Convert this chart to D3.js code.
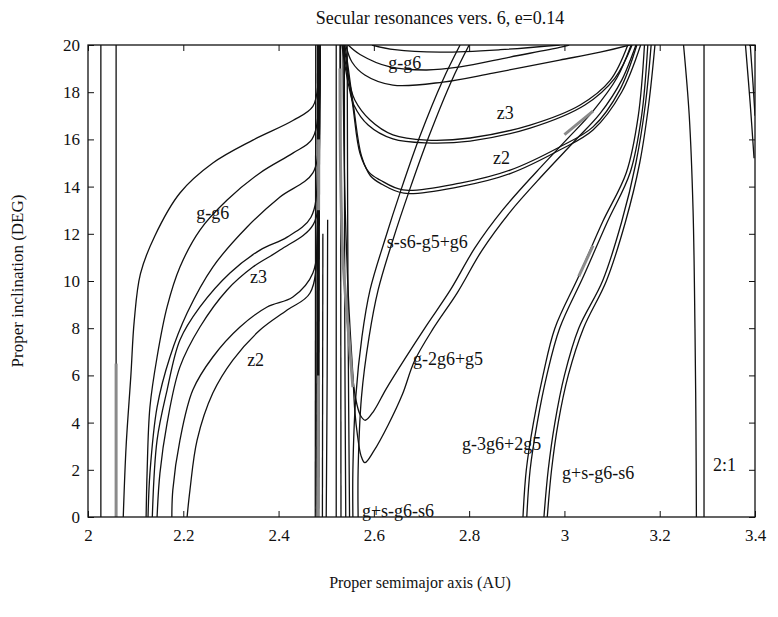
<!DOCTYPE html>
<html>
<head>
<meta charset="utf-8">
<script src="https://cdn.jsdelivr.net/npm/d3@7"></script>
<style>
  body { margin: 0; background: #fff; }
  svg text { font-family: "Liberation Serif", "DejaVu Serif", serif; fill: #111; }
</style>
</head>
<body>
<div id="chart"></div>
<script>
// axes
const xTicks = [2, 2.2, 2.4, 2.6, 2.8, 3, 3.2, 3.4];
const yTicks = [0, 2, 4, 6, 8, 10, 12, 14, 16, 18, 20];

// left family (g-g6, z3, z2) merging into the 2.48 resonance
const ggLeftOuter = [[2.487,20],[2.484,18.6],[2.472,17.4],[2.43,16.8],[2.346,15.97],[2.262,15.0],[2.193,13.73],[2.14,11.9],[2.11,10.3],[2.097,8.3],[2.09,6.0],[2.08,3.0],[2.074,0]];
const ggLeftInner = [[2.487,20],[2.485,17.5],[2.47,16.0],[2.43,15.42],[2.361,14.58],[2.292,13.43],[2.235,12.16],[2.193,10.59],[2.166,8.9],[2.145,6.78],[2.13,4.66],[2.124,1.86],[2.122,0]];
const ggLeftThird = [[2.487,20],[2.484,16.5],[2.472,14.58],[2.403,13.56],[2.334,12.29],[2.262,10.59],[2.208,8.64],[2.172,6.78],[2.145,4.66],[2.13,1.86],[2.126,0]];
const z3LeftA = [[2.486,20],[2.483,15.0],[2.468,12.7],[2.418,11.86],[2.361,11.31],[2.298,10.34],[2.235,8.9],[2.193,7.5],[2.166,5.38],[2.145,3.26],[2.135,0]];
const z3LeftB = [[2.486,20],[2.484,14.6],[2.473,12.4],[2.403,11.31],[2.346,10.59],[2.292,9.62],[2.235,8.05],[2.193,6.36],[2.166,3.98],[2.151,1.86],[2.145,0]];
const z2LeftA = [[2.485,20],[2.483,13.2],[2.472,10.34],[2.43,9.32],[2.376,8.9],[2.319,8.05],[2.262,6.78],[2.22,5.38],[2.193,3.26],[2.178,1.14],[2.176,0]];
const z2LeftB = [[2.485,20],[2.482,12.3],[2.466,9.49],[2.418,8.77],[2.361,7.92],[2.304,6.65],[2.262,5.25],[2.229,3.26],[2.214,1.14],[2.208,0]];

// near-vertical lines
const vert203 = [[2.027,20],[2.027,0]];
const vert206 = [[2.059,20],[2.059,0]];
const res248a = [[2.478,20],[2.477,0]];
const res248b = [[2.484,20],[2.482,0]];
const res249 = [[2.493,12.0],[2.492,0]];
const res250 = [[2.503,12.6],[2.502,6],[2.5,0]];
const res252 = [[2.521,20],[2.521,0]];
const res253 = [[2.53,20],[2.531,0]];
const res254 = [[2.538,20],[2.539,8],[2.541,0]];
const res255 = [[2.544,20],[2.546,8],[2.549,0]];

// g-2g6+g5 (two V shaped curves)
const gg5Upper = [[2.529,20],[2.53,15],[2.535,11],[2.548,7.5],[2.562,5.0],[2.572,4.3],[2.582,4.1],[2.6,4.5],[2.625,5.4],[2.665,6.7],[2.71,8.1],[2.76,9.6],[2.812,11.4],[2.87,13.0],[2.94,14.6],[3.005,16.0],[3.06,17.2],[3.11,18.6],[3.14,20]];
const gg5Lower = [[2.535,20],[2.537,16],[2.54,13],[2.545,10],[2.55,8],[2.556,6],[2.56,4.5],[2.566,3.4],[2.573,2.6],[2.581,2.3],[2.6,2.8],[2.63,3.9],[2.66,5.2],[2.685,6.6],[2.725,8.0],[2.775,9.5],[2.827,11.3],[2.885,12.9],[2.955,14.5],[3.02,15.9],[3.075,17.1],[3.12,18.5],[3.15,20]];

// s-s6-g5+g6 pair
const ssA = [[2.781,20],[2.745,18.52],[2.696,16.1],[2.657,13.86],[2.623,11.74],[2.592,9.62],[2.575,7.63],[2.562,5.08],[2.556,2.0],[2.556,0]];
const ssB = [[2.80,20],[2.764,18.52],[2.715,16.1],[2.675,13.86],[2.64,11.74],[2.609,9.62],[2.59,7.63],[2.574,5.08],[2.567,2.0],[2.567,0]];

// upper family right of the 2.5 resonance
const ggTop0 = [[2.596,20],[2.644,19.8],[2.739,19.7],[2.865,19.8],[2.99,20]];
const ggTop = [[2.546,20],[2.571,19.6],[2.634,19.07],[2.711,18.94],[2.781,19.07],[2.886,19.49],[2.99,19.9],[3.01,20]];
const ggTop2 = [[2.541,20],[2.554,19.28],[2.581,18.73],[2.64,18.3],[2.745,18.43],[2.85,18.81],[2.99,19.36],[3.075,19.7],[3.137,20]];
const z3TopA = [[2.535,20],[2.54,19.3],[2.55,18.3],[2.56,17.67],[2.592,16.82],[2.64,16.19],[2.711,15.97],[2.802,16.06],[2.928,16.61],[3.033,17.46],[3.096,18.5],[3.133,20]];
const z3TopB = [[2.533,20],[2.538,19.3],[2.548,18.2],[2.558,17.46],[2.588,16.61],[2.64,16.02],[2.711,15.85],[2.802,15.93],[2.928,16.48],[3.043,17.46],[3.106,18.6],[3.142,20]];
const z2TopA = [[2.537,20],[2.541,19.5],[2.556,17.4],[2.571,15.4],[2.59,14.6],[2.613,14.28],[2.661,13.86],[2.781,14.15],[2.886,14.7],[2.99,15.68],[3.06,16.53],[3.116,18.09],[3.152,20]];
const z2TopB = [[2.539,20],[2.543,19.5],[2.558,17.3],[2.574,15.3],[2.593,14.45],[2.617,14.1],[2.663,13.72],[2.781,14.0],[2.886,14.55],[2.99,15.55],[3.06,16.4],[3.12,18.0],[3.16,20]];

// g-3g6+2g5 and g+s-g6-s6 pairs on the right
const g3A = [[2.913,0],[2.92,2],[2.935,4],[2.955,6],[2.98,8],[3.03,10.2],[3.08,12.5],[3.13,14.6],[3.155,17],[3.168,20]];
const g3B = [[2.921,0],[2.928,2],[2.943,4],[2.963,6],[2.99,8],[3.04,10.2],[3.09,12.5],[3.138,14.6],[3.162,17],[3.175,20]];
const gsA = [[2.957,0],[2.966,2],[2.98,4],[3.0,6],[3.03,8],[3.08,10],[3.12,12.5],[3.15,15],[3.17,17.5],[3.182,20]];
const gsB = [[2.964,0],[2.973,2],[2.987,4],[3.008,6],[3.04,8],[3.088,10],[3.128,12.5],[3.158,15],[3.177,17.5],[3.19,20]];

// 2:1 resonance and right edge
const res21Curve = [[3.25,20],[3.262,17],[3.27,13],[3.274,8],[3.276,4],[3.277,0]];
const res21Line = [[3.293,20],[3.293,0]];
const edgeA = [[3.38,20],[3.39,17.5],[3.398,15.2]];
const edgeB = [[3.39,20],[3.396,18.3],[3.4,17]];

// scan artefacts (grey segments)
const greyA = [[2.484,6.0],[2.482,0]];
const greyB = [[2.484,16.0],[2.484,13.0]];
const greyC = [[2.529,19],[2.53,15],[2.535,11],[2.548,7.5],[2.556,5.5]];
const greyD = [[3.0,16.2],[3.06,17.2]];
const greyE = [[3.03,10.2],[3.06,11.5]];
const greyF = [[2.059,6.5],[2.059,0]];

const curveLabels = ["g-g6", "z3", "z2", "g-g6", "z3", "z2", "s-s6-g5+g6", "g-2g6+g5", "g-3g6+2g5", "g+s-g6-s6", "g+s-g6-s6", "2:1"];
const labelA = [2.227, 2.34, 2.334, 2.63, 2.858, 2.85, 2.627, 2.682, 2.785, 2.995, 2.575, 3.312];
const labelI = [12.88, 10.17, 6.65, 19.24, 17.12, 15.21, 11.65, 6.69, 3.09, 1.86, 0.25, 2.2];

const blackCurves = [ggLeftOuter, ggLeftInner, ggLeftThird, z3LeftA, z3LeftB, z2LeftA, z2LeftB,
  vert203, vert206, res248a, res249, res250, res252, res253, res254, res255,
  gg5Upper, gg5Lower, ssA, ssB, ggTop0, ggTop, ggTop2, z3TopA, z3TopB, z2TopA, z2TopB,
  g3A, g3B, gsA, gsB, res21Curve, res21Line, edgeA, edgeB];
const greyCurves = [greyA, greyB, greyC, greyD, greyE, greyF];

const W = 778, H = 617;
const margin = {left: 88, right: 23, top: 45, bottom: 100};

const svg = d3.select("#chart").append("svg")
    .attr("width", W).attr("height", H);

const x = d3.scaleLinear().domain([2, 3.4]).range([margin.left, W - margin.right]);
const y = d3.scaleLinear().domain([0, 20]).range([H - margin.bottom, margin.top]);

svg.append("defs").append("clipPath").attr("id", "plot")
    .append("rect")
    .attr("x", x(2)).attr("y", y(20))
    .attr("width", x(3.4) - x(2)).attr("height", y(0) - y(20));

const line = d3.line()
    .x(d => x(d[0]))
    .y(d => y(d[1]))
    .curve(d3.curveCatmullRom.alpha(0.5));

const plot = svg.append("g").attr("clip-path", "url(#plot)");

plot.selectAll("path.black")
    .data(blackCurves)
    .enter()
    .append("path")
    .attr("class", "black")
    .attr("d", line)
    .attr("fill", "none")
    .attr("stroke", "#111")
    .attr("stroke-width", 1.3);

// thick 2.48 line
plot.append("path")
    .attr("d", line(res248b))
    .attr("fill", "none")
    .attr("stroke", "#111")
    .attr("stroke-width", 3.5);

plot.selectAll("path.grey")
    .data(greyCurves)
    .enter()
    .append("path")
    .attr("class", "grey")
    .attr("d", line)
    .attr("fill", "none")
    .attr("stroke", "#8a8a8a")
    .attr("stroke-width", 3);

// frame
svg.append("rect")
    .attr("x", x(2)).attr("y", y(20))
    .attr("width", x(3.4) - x(2)).attr("height", y(0) - y(20))
    .attr("fill", "none")
    .attr("stroke", "#111")
    .attr("stroke-width", 1.3);

// axes with inward ticks, MATLAB style
const xAxis = svg.append("g")
    .attr("transform", "translate(0," + y(0) + ")")
    .call(d3.axisBottom(x).tickValues(xTicks).tickSizeInner(-6).tickSizeOuter(0).tickPadding(12).tickFormat(d3.format("")));
const xAxisTop = svg.append("g")
    .attr("transform", "translate(0," + y(20) + ")")
    .call(d3.axisTop(x).tickValues(xTicks).tickSizeInner(-6).tickSizeOuter(0).tickFormat(""));
const yAxis = svg.append("g")
    .attr("transform", "translate(" + x(2) + ",0)")
    .call(d3.axisLeft(y).tickValues(yTicks).tickSizeInner(-6).tickSizeOuter(0).tickPadding(8));
const yAxisRight = svg.append("g")
    .attr("transform", "translate(" + x(3.4) + ",0)")
    .call(d3.axisRight(y).tickValues(yTicks).tickSizeInner(-6).tickSizeOuter(0).tickFormat(""));

[xAxis, xAxisTop, yAxis, yAxisRight].forEach(function (g) {
    g.select(".domain").remove();
    g.selectAll(".tick line").attr("stroke", "#111");
    g.selectAll("text")
        .attr("font-family", "Liberation Serif, serif")
        .attr("font-size", 17)
        .attr("fill", "#111");
});

// curve labels
svg.selectAll("text.clabel")
    .data(curveLabels)
    .enter()
    .append("text")
    .attr("class", "clabel")
    .attr("x", (d, i) => x(labelA[i]))
    .attr("y", (d, i) => y(labelI[i]))
    .attr("dy", "0.35em")
    .attr("font-size", 18)
    .text(d => d);

// title and axis titles
svg.append("text")
    .attr("x", 440).attr("y", 24)
    .attr("text-anchor", "middle")
    .attr("font-size", 18)
    .text("Secular resonances vers. 6, e=0.14");

svg.append("text")
    .attr("x", 420).attr("y", 588)
    .attr("text-anchor", "middle")
    .attr("font-size", 16)
    .text("Proper semimajor axis (AU)");

svg.append("text")
    .attr("transform", "translate(23,281) rotate(-90)")
    .attr("text-anchor", "middle")
    .attr("font-size", 17)
    .text("Proper inclination (DEG)");
</script>
</body>
</html>
